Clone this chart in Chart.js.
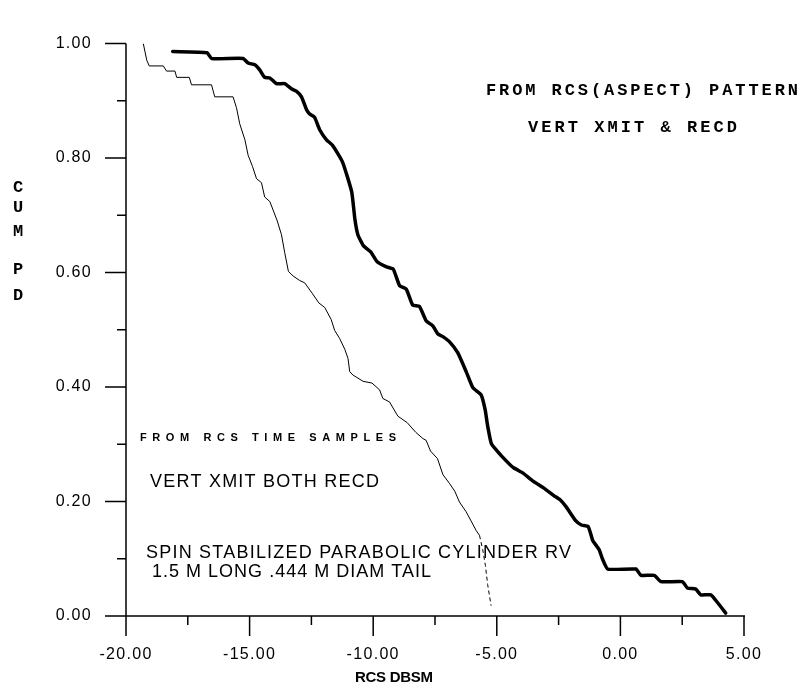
<!DOCTYPE html>
<html>
<head>
<meta charset="utf-8">
<script src="https://cdn.jsdelivr.net/npm/chart.js@4/dist/chart.umd.min.js"></script>
<style>
  html, body { margin: 0; padding: 0; background: #fff; }
  #wrap { position: relative; width: 804px; height: 688px; }
</style>
</head>
<body>
<div id="wrap"><canvas id="c" width="804" height="688"></canvas></div>
<script>
// ---- data ----
const aspectX = [-18.11,-16.72,-16.54,-15.26,-15.06,-14.79,-14.59,-14.39,-14.18,-13.91,-13.58,-13.31,-13.11,-12.90,-12.70,-12.57,-12.37,-12.16,-11.89,-11.64,-11.24,-10.87,-10.74,-10.62,-10.40,-10.10,-9.84,-9.46,-9.19,-8.93,-8.66,-8.40,-8.13,-7.86,-7.59,-7.39,-7.18,-6.91,-6.58,-6.24,-5.97,-5.63,-5.47,-5.37,-5.22,-5.00,-4.62,-4.32,-3.95,-3.55,-3.08,-2.68,-2.44,-2.20,-1.80,-1.58,-1.30,-1.12,-0.86,-0.72,-0.51,0.63,0.83,1.37,1.64,2.51,2.71,3.05,3.25,3.66,3.92,4.26];
const aspectY = [0.986,0.984,0.974,0.974,0.966,0.963,0.954,0.941,0.940,0.930,0.930,0.921,0.917,0.907,0.885,0.877,0.871,0.849,0.832,0.822,0.793,0.741,0.693,0.666,0.647,0.636,0.619,0.610,0.606,0.577,0.571,0.543,0.541,0.516,0.507,0.493,0.488,0.479,0.460,0.427,0.399,0.386,0.360,0.332,0.301,0.289,0.271,0.259,0.250,0.236,0.223,0.210,0.203,0.191,0.166,0.159,0.156,0.132,0.116,0.099,0.082,0.082,0.071,0.071,0.060,0.060,0.049,0.047,0.037,0.037,0.024,0.005];

const timeX = [-19.30,-19.16,-19.06,-18.49,-18.36,-18.02,-17.95,-17.44,-17.35,-16.54,-16.41,-15.67,-15.53,-15.40,-15.19,-15.06,-14.88,-14.72,-14.52,-14.39,-14.18,-13.88,-13.71,-13.58,-13.43,-13.24,-12.97,-12.77,-12.47,-12.20,-11.96,-11.70,-11.56,-11.36,-11.15,-11.02,-10.95,-10.82,-10.41,-10.05,-9.74,-9.61,-9.34,-9.00,-8.63,-8.28,-7.99,-7.86,-7.68,-7.40,-7.18,-6.92,-6.70,-6.51,-6.24,-6.04,-5.83,-5.70,-5.57,-5.46,-5.37,-5.23];
const timeY = [1.000,0.971,0.961,0.961,0.952,0.952,0.941,0.941,0.928,0.928,0.907,0.907,0.888,0.860,0.832,0.805,0.785,0.764,0.757,0.732,0.724,0.690,0.666,0.635,0.602,0.594,0.586,0.582,0.564,0.547,0.539,0.518,0.499,0.485,0.466,0.450,0.427,0.421,0.410,0.407,0.395,0.380,0.374,0.349,0.338,0.321,0.310,0.307,0.288,0.275,0.247,0.232,0.218,0.199,0.182,0.166,0.149,0.141,0.116,0.088,0.055,0.018];

const xMajorTicks = [-20, -15, -10, -5, 0, 5];
const xMinorTicks = [-17.5, -12.5, -7.5, -2.5, 2.5];
const yMajorTicks = [0, 0.2, 0.4, 0.6, 0.8, 1.0];
const yMinorTicks = [0.1, 0.3, 0.5, 0.7, 0.9];

const xAxisTitle = "RCS DBSM";
const yAxisTitle = ["C", "U", "M", "P", "D"];
const notesRight = ["FROM RCS(ASPECT) PATTERN", "VERT XMIT & RECD"];
const notesLeft = ["FROM RCS TIME SAMPLES", "VERT XMIT BOTH RECD", "SPIN STABILIZED PARABOLIC CYLINDER RV", "1.5 M LONG .444 M DIAM TAIL"];

const toPoints = (xs, ys) => xs.map((v, i) => ({ x: v, y: ys[i] }));

// ---- helpers ----
function fitText(ctx, text, x, y, font, width) {
  ctx.font = font;
  ctx.letterSpacing = '0px';
  const w = ctx.measureText(text).width;
  const ls = (width - w) / Math.max(1, text.length - 1);
  ctx.letterSpacing = ls.toFixed(2) + 'px';
  ctx.fillText(text, x, y);
  ctx.letterSpacing = '0px';
}

const spacingPlugin = {
  id: 'spacing',
  beforeDraw(chart) { chart.ctx.letterSpacing = '1.3px'; },
  afterDraw(chart) { chart.ctx.letterSpacing = '0px'; }
};

const axesPlugin = {
  id: 'axesDraw',
  afterDraw(chart) {
    const { ctx } = chart;
    const xs = chart.scales.x, ys = chart.scales.y;
    const y0 = ys.getPixelForValue(0), yTop = ys.getPixelForValue(1);
    const xL = xs.getPixelForValue(-20), xR = xs.getPixelForValue(5);
    ctx.save();
    ctx.strokeStyle = '#000';
    ctx.lineWidth = 1.5;
    ctx.beginPath();
    // y axis line (extends down to the -20 major tick)
    ctx.moveTo(xL, yTop); ctx.lineTo(xL, y0 + 20);
    // x axis line (extends left to the 0.00 major tick)
    ctx.moveTo(xL - 21, y0); ctx.lineTo(xR + 1, y0);
    yMajorTicks.forEach(v => { const p = ys.getPixelForValue(v); ctx.moveTo(xL - 21, p); ctx.lineTo(xL, p); });
    yMinorTicks.forEach(v => { const p = ys.getPixelForValue(v); ctx.moveTo(xL - 9, p); ctx.lineTo(xL, p); });
    xMajorTicks.forEach(v => { const p = xs.getPixelForValue(v); ctx.moveTo(p, y0); ctx.lineTo(p, y0 + 20); });
    xMinorTicks.forEach(v => { const p = xs.getPixelForValue(v); ctx.moveTo(p, y0); ctx.lineTo(p, y0 + 9); });
    ctx.stroke();

    ctx.fillStyle = '#000';
    ctx.textBaseline = 'alphabetic';
    ctx.textAlign = 'left';
    // right-hand notes (typewriter style)
    fitText(ctx, notesRight[0], 486, 95, 'bold 17px "Liberation Mono"', 312);
    fitText(ctx, notesRight[1], 528, 132, 'bold 17px "Liberation Mono"', 209);
    // left notes
    fitText(ctx, notesLeft[0], 140, 441, 'bold 11px "Liberation Sans"', 256);
    fitText(ctx, notesLeft[1], 150, 487, '18px "Liberation Sans"', 229);
    fitText(ctx, notesLeft[2], 146, 558, '18px "Liberation Sans"', 425);
    fitText(ctx, notesLeft[3], 152, 577, '18px "Liberation Sans"', 279);
    // x axis title
    fitText(ctx, xAxisTitle, 355, 682, 'bold 15px "Liberation Sans"', 78);
    // y axis title, stacked letters
    ctx.textAlign = 'center';
    ctx.font = 'bold 17px "Liberation Mono"';
    const yPos = [192, 212, 236, 274, 300];
    yAxisTitle.forEach((ch, i) => ctx.fillText(ch, 18, yPos[i]));
    ctx.restore();
  }
};

new Chart(document.getElementById('c'), {
  type: 'scatter',
  data: {
    datasets: [
      {
        label: 'From RCS(aspect) pattern',
        data: toPoints(aspectX, aspectY),
        showLine: true,
        borderColor: '#000',
        backgroundColor: '#000',
        borderWidth: 3.5,
        borderCapStyle: 'round',
        borderJoinStyle: 'round',
        pointRadius: 0,
        tension: 0.15
      },
      {
        label: 'From RCS time samples',
        data: toPoints(timeX, timeY),
        showLine: true,
        borderColor: '#000',
        backgroundColor: '#000',
        borderWidth: 1,
        pointRadius: 0,
        tension: 0,
        segment: { borderDash: ctx => (ctx.p1.parsed.y < 0.12 ? [4, 3] : undefined) }
      }
    ]
  },
  options: {
    responsive: false,
    animation: false,
    events: [],
    layout: { padding: { left: 0, top: 16, right: 60, bottom: 0 } },
    plugins: { legend: { display: false }, tooltip: { enabled: false } },
    scales: {
      x: {
        type: 'linear',
        min: -20, max: 5,
        afterFit: s => { s.height = 72; },
        afterBuildTicks: s => { s.ticks = xMajorTicks.map(v => ({ value: v })); },
        grid: { display: false, drawTicks: false },
        border: { display: false },
        ticks: {
          padding: 29,
          color: '#000',
          font: { family: '"Liberation Sans"', size: 16 },
          maxRotation: 0,
          autoSkip: false,
          callback: v => v.toFixed(2)
        }
      },
      y: {
        type: 'linear',
        min: 0, max: 1,
        afterFit: s => { s.width = 126; },
        afterBuildTicks: s => { s.ticks = yMajorTicks.map(v => ({ value: v })); },
        grid: { display: false, drawTicks: false },
        border: { display: false },
        ticks: {
          padding: 34,
          color: '#000',
          font: { family: '"Liberation Sans"', size: 16 },
          autoSkip: false,
          callback: v => v.toFixed(2)
        }
      }
    }
  },
  plugins: [spacingPlugin, axesPlugin]
});
</script>
</body>
</html>
